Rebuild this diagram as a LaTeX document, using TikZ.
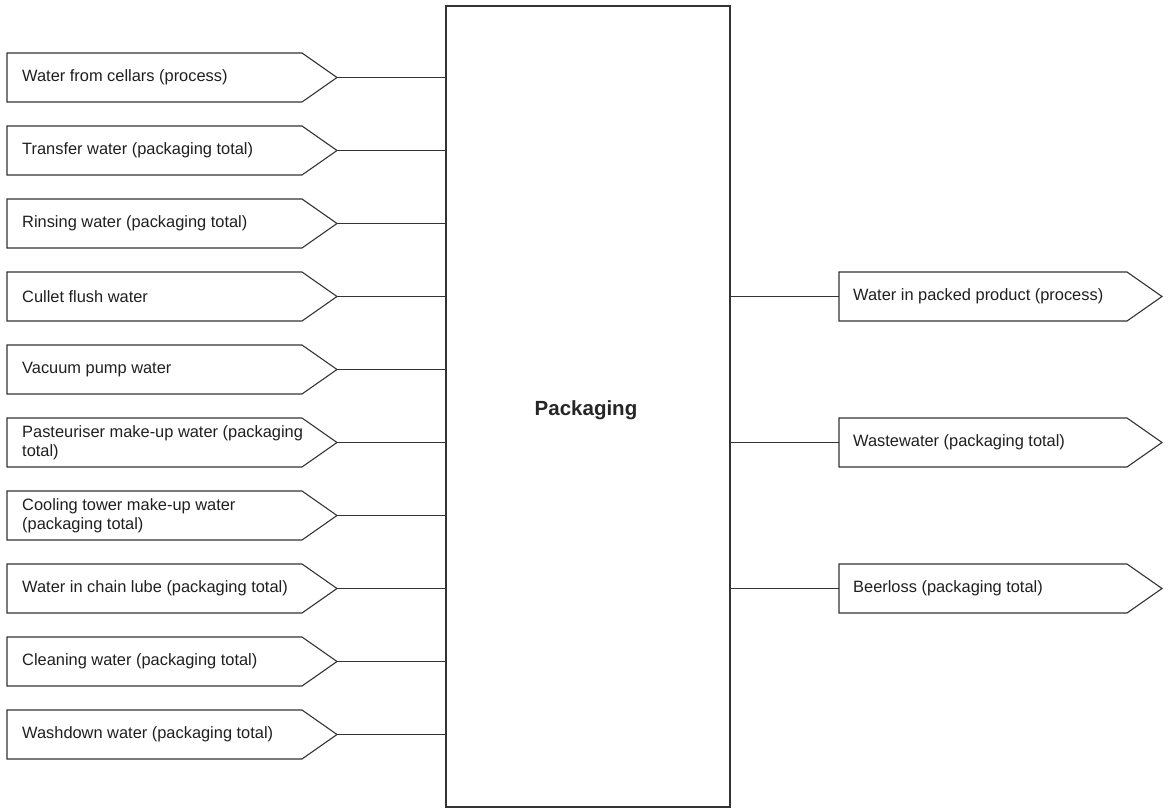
\documentclass[tikz,border=0pt]{standalone}
\usepackage{fontspec}
\setmainfont{Liberation Sans}
\usetikzlibrary{calc}

\tikzset{
  frame/.style={draw=black!80, line width=1.1pt},
  flowline/.style={draw=black!80, line width=1.1pt},
  flowtext/.style={anchor=west, inner sep=0pt, align=left, text=black!88,
    font=\fontsize{16.4}{18.6}\selectfont},
  maintext/.style={text=black!85, font=\fontsize{20.5}{24}\selectfont\bfseries}
}

% incoming stream: pentagon at row #2, text #3, connector into the process box
\newcommand{\inflow}[3]{%
  \draw[flowline] (7,#2-24.5) -- (302,#2-24.5) -- (337,#2) coordinate (#1tip)
    -- (302,#2+24.5) -- (7,#2+24.5) -- cycle;
  \node[flowtext] (#1) at (22,#2) {#3};
  \draw[flowline] (#1tip) -- (pk.west |- #1tip);
}
% outgoing stream: connector from the process box into the pentagon
\newcommand{\outflow}[3]{%
  \draw[flowline] (839,#2-24.5) coordinate (#1nw) -- (1127,#2-24.5) -- (1162,#2)
    -- (1127,#2+24.5) -- (839,#2+24.5) -- cycle;
  \coordinate (#1in) at (839,#2);
  \node[flowtext] (#1) at (853,#2) {#3};
  \draw[flowline] (pk.east |- #1in) -- (#1in);
}

\begin{document}
\begin{tikzpicture}[x=1pt, y=-1pt]
\useasboundingbox (0,0) rectangle (1168,810);

% central process block
\node[frame, minimum width=284pt, minimum height=801pt, inner sep=0pt]
  (pk) at (588,406.5) {};
\node[maintext] (pklabel) at (586,410) {Packaging};

\inflow{a}{77.5}{Water from cellars (process)}
\inflow{b}{150.5}{Transfer water (packaging total)}
\inflow{c}{223.5}{Rinsing water (packaging total)}
\inflow{d}{296.5}{Cullet flush water}
\inflow{e}{369.5}{Vacuum pump water}
\inflow{f}{442.5}{Pasteuriser make-up water (packaging\\total)}
\inflow{g}{515.5}{Cooling tower make-up water\\(packaging total)}
\inflow{h}{588.5}{Water in chain lube (packaging total)}
\inflow{i}{661.5}{Cleaning water (packaging total)}
\inflow{j}{734.5}{Washdown water (packaging total)}

\outflow{p}{296.5}{Water in packed product (process)}
\outflow{q}{442.5}{Wastewater (packaging total)}
\outflow{r}{588.5}{Beerloss (packaging total)}
\end{tikzpicture}
\end{document}
